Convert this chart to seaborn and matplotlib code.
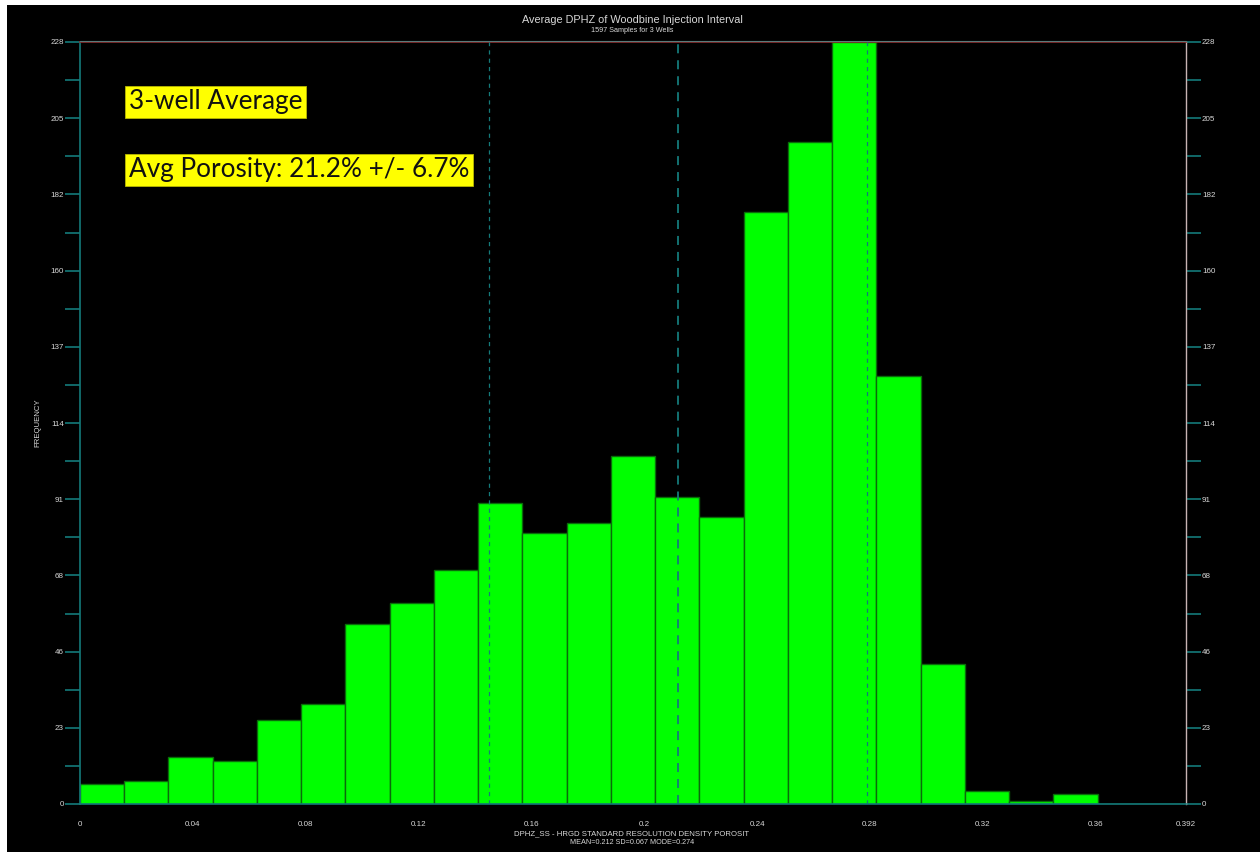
import numpy as np
import matplotlib
matplotlib.use("Agg")
import matplotlib.pyplot as plt
import seaborn as sns
from matplotlib.patches import Rectangle
from matplotlib.ticker import FixedLocator

# ---- data ----
bin_width = 0.392 / 25
bin_edges = [round(i * bin_width, 5) for i in range(26)]
counts = [6, 7, 14, 13, 25, 30, 54, 60, 70, 90, 81, 84, 104, 92, 86,
          177, 198, 228, 128, 42, 4, 1, 3, 0, 0]
mean_val = 0.212
sd_val = 0.067
x_tick_vals = [0, 0.04, 0.08, 0.12, 0.16, 0.2, 0.24, 0.28, 0.32, 0.36, 0.392]
x_tick_labels = ["0", "0.04", "0.08", "0.12", "0.16", "0.2", "0.24", "0.28", "0.32", "0.36", "0.392"]
x_minor_vals = [0.02, 0.06, 0.10, 0.14, 0.18, 0.22, 0.26, 0.30, 0.34, 0.38]
y_tick_vals = [22.8 * i for i in range(11)]
y_tick_labels = ["0", "23", "46", "68", "91", "114", "137", "160", "182", "205", "228"]
y_minor_vals = [11.4 + 22.8 * i for i in range(10)]

title = "Average DPHZ of Woodbine Injection Interval"
subtitle = "1597 Samples for 3 Wells"
xlabel1 = "DPHZ_SS - HRGD STANDARD RESOLUTION DENSITY POROSIT"
xlabel2 = "MEAN=0.212 SD=0.067 MODE=0.274"
ylabel = "FREQUENCY"
note1 = "3-well Average"
note2 = "Avg Porosity: 21.2% +/- 6.7%"

centers = [(bin_edges[i] + bin_edges[i + 1]) / 2 for i in range(25)]

sns.set_style("dark")
plt.rcParams['font.family'] = ['Liberation Sans', 'DejaVu Sans']
plt.rcParams['lines.scale_dashes'] = False

W, H = 1260, 852
fig = plt.figure(figsize=(W / 100, H / 100), dpi=100, facecolor="white")
fig.patches.append(Rectangle((7 / W, 0), 1, 1 - 5 / H, transform=fig.transFigure,
                             facecolor="black", edgecolor="none", zorder=-10))

ax = fig.add_axes([80 / W, 1 - 804 / H, (1186 - 80) / W, (804 - 42) / H])
ax.set_facecolor("black")
ax.grid(False)

sns.histplot(x=centers, weights=counts, bins=bin_edges, color="#00ff00",
             edgecolor="#0b6b0b", linewidth=1.0, alpha=1.0, ax=ax, zorder=2)

ax.set_xlim(0, 0.392)
ax.set_ylim(0, 228)

teal = "#147a7a"
ax.axvline(mean_val - sd_val, color=teal, lw=0.9, dashes=(3, 3), zorder=3)
ax.axvline(mean_val, color=teal, lw=1.3, dashes=(6.5, 5), zorder=3)
ax.axvline(mean_val + sd_val, color=teal, lw=0.9, dashes=(3, 3), zorder=3)

for side in ["left", "bottom"]:
    ax.spines[side].set_color(teal)
    ax.spines[side].set_linewidth(1.2)
ax.spines["right"].set_color("#c8b4b4")
ax.spines["right"].set_linewidth(1.0)
ax.spines["top"].set_color("#8a2a2a")
ax.spines["top"].set_linewidth(1.2)
ax.plot([0, 1], [1.0015, 1.0015], transform=ax.transAxes, color="#5a7a7a", lw=0.8, clip_on=False, zorder=5)

ax.set_xticks(x_tick_vals)
ax.set_xticklabels(x_tick_labels)
ax.xaxis.set_minor_locator(FixedLocator(x_minor_vals))
ax.set_yticks(y_tick_vals)
ax.set_yticklabels(y_tick_labels)
ax.yaxis.set_minor_locator(FixedLocator(y_minor_vals))

lab_col = "#d8d8d8"
ax.tick_params(axis="x", which="major", direction="out", length=8, width=1.2, color=teal,
               labelsize=5.8, labelcolor=lab_col, pad=4)
ax.tick_params(axis="x", which="minor", direction="out", length=12, width=1.2, color=teal)
ax.tick_params(axis="y", which="both", direction="out", length=11, width=1.2, color=teal,
               labelsize=5.8, labelcolor=lab_col, pad=0.5, left=True, right=True,
               labelleft=True, labelright=True)
ax.set_xlabel("")
ax.set_ylabel("")

fig.text(632 / W, 1 - 20 / H, title, ha="center", va="center", fontsize=7.8, color=lab_col)
fig.text(632 / W, 1 - 31 / H, subtitle, ha="center", va="center", fontsize=5.2, color=lab_col)
fig.text(632 / W, 1 - 834 / H, xlabel1, ha="center", va="center", fontsize=5.6, color=lab_col)
fig.text(632 / W, 1 - 843 / H, xlabel2, ha="center", va="center", fontsize=5.2, color=lab_col)
fig.text(38 / W, 1 - 423 / H, ylabel, ha="center", va="center", rotation=90, fontsize=5.6, color=lab_col)

box = dict(boxstyle="square,pad=0.15", facecolor="#ffff00", edgecolor="#b8b800", linewidth=0.6)
fig.text(129 / W, 1 - 102 / H, note1, ha="left", va="center", fontsize=18.8,
         family=["Lato", "DejaVu Sans"], color="#111111", bbox=box)
fig.text(129 / W, 1 - 170 / H, note2, ha="left", va="center", fontsize=18.8,
         family=["Lato", "DejaVu Sans"], color="#111111", bbox=box)

fig.savefig("out.png", dpi=100, facecolor=fig.get_facecolor())
